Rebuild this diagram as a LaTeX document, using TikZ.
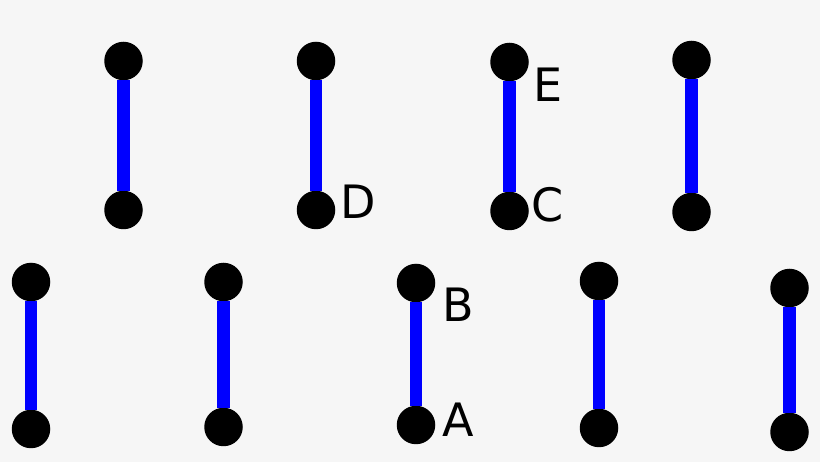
\documentclass[tikz,border=0pt]{standalone}
\usepackage{fontspec}
\setmainfont{DejaVu Sans}
\usetikzlibrary{shapes}
\definecolor{hintergrund}{HTML}{F6F6F6}
\tikzset{punkt/.style = {
    shape=circle, fill = black, minimum size = 38.5pt, inner sep = 0pt
}}
\tikzset{kante/.style = {
    draw = blue, line width = 12.5pt
}}
\tikzset{beschriftung/.style = {
    font = \fontsize{46}{55}\selectfont, inner sep = 0pt
}}

\begin{document}
\begin{tikzpicture}[x=1pt,y=-1pt]
  \fill[hintergrund] (0,0) rectangle (820,462);
  % obere Reihe
  \node (o1) at (123.5,61) [punkt] {};
  \node (u1) at (123.5,210) [punkt] {};
  \node (o2) at (316,61) [punkt] {};
  \node (u2) at (316,210) [punkt] {};
  \node (o3) at (509.5,62) [punkt] {};
  \node (u3) at (509.5,211) [punkt] {};
  \node (o4) at (691.5,60) [punkt] {};
  \node (u4) at (691.5,212) [punkt] {};
  % untere Reihe
  \node (o5) at (31,282) [punkt] {};
  \node (u5) at (31,429) [punkt] {};
  \node (o6) at (223.5,282) [punkt] {};
  \node (u6) at (223.5,427) [punkt] {};
  \node (o7) at (416,283) [punkt] {};
  \node (u7) at (416,425) [punkt] {};
  \node (o8) at (599,281) [punkt] {};
  \node (u8) at (599,428) [punkt] {};
  \node (o9) at (789.5,288) [punkt] {};
  \node (u9) at (789.5,432) [punkt] {};
  \draw[kante] (o1) -- (u1);
  \draw[kante] (o2) -- (u2);
  \draw[kante] (o3) -- (u3);
  \draw[kante] (o4) -- (u4);
  \draw[kante] (o5) -- (u5);
  \draw[kante] (o6) -- (u6);
  \draw[kante] (o7) -- (u7);
  \draw[kante] (o8) -- (u8);
  \draw[kante] (o9) -- (u9);
  % Beschriftungen
  \node (lD) at (358,202) [beschriftung] {D};
  \node (lE) at (548,85) [beschriftung] {E};
  \node (lC) at (548,205) [beschriftung] {C};
  \node (lB) at (458,305) [beschriftung] {B};
  \node (lA) at (458,420) [beschriftung] {A};
\end{tikzpicture}
\end{document}
